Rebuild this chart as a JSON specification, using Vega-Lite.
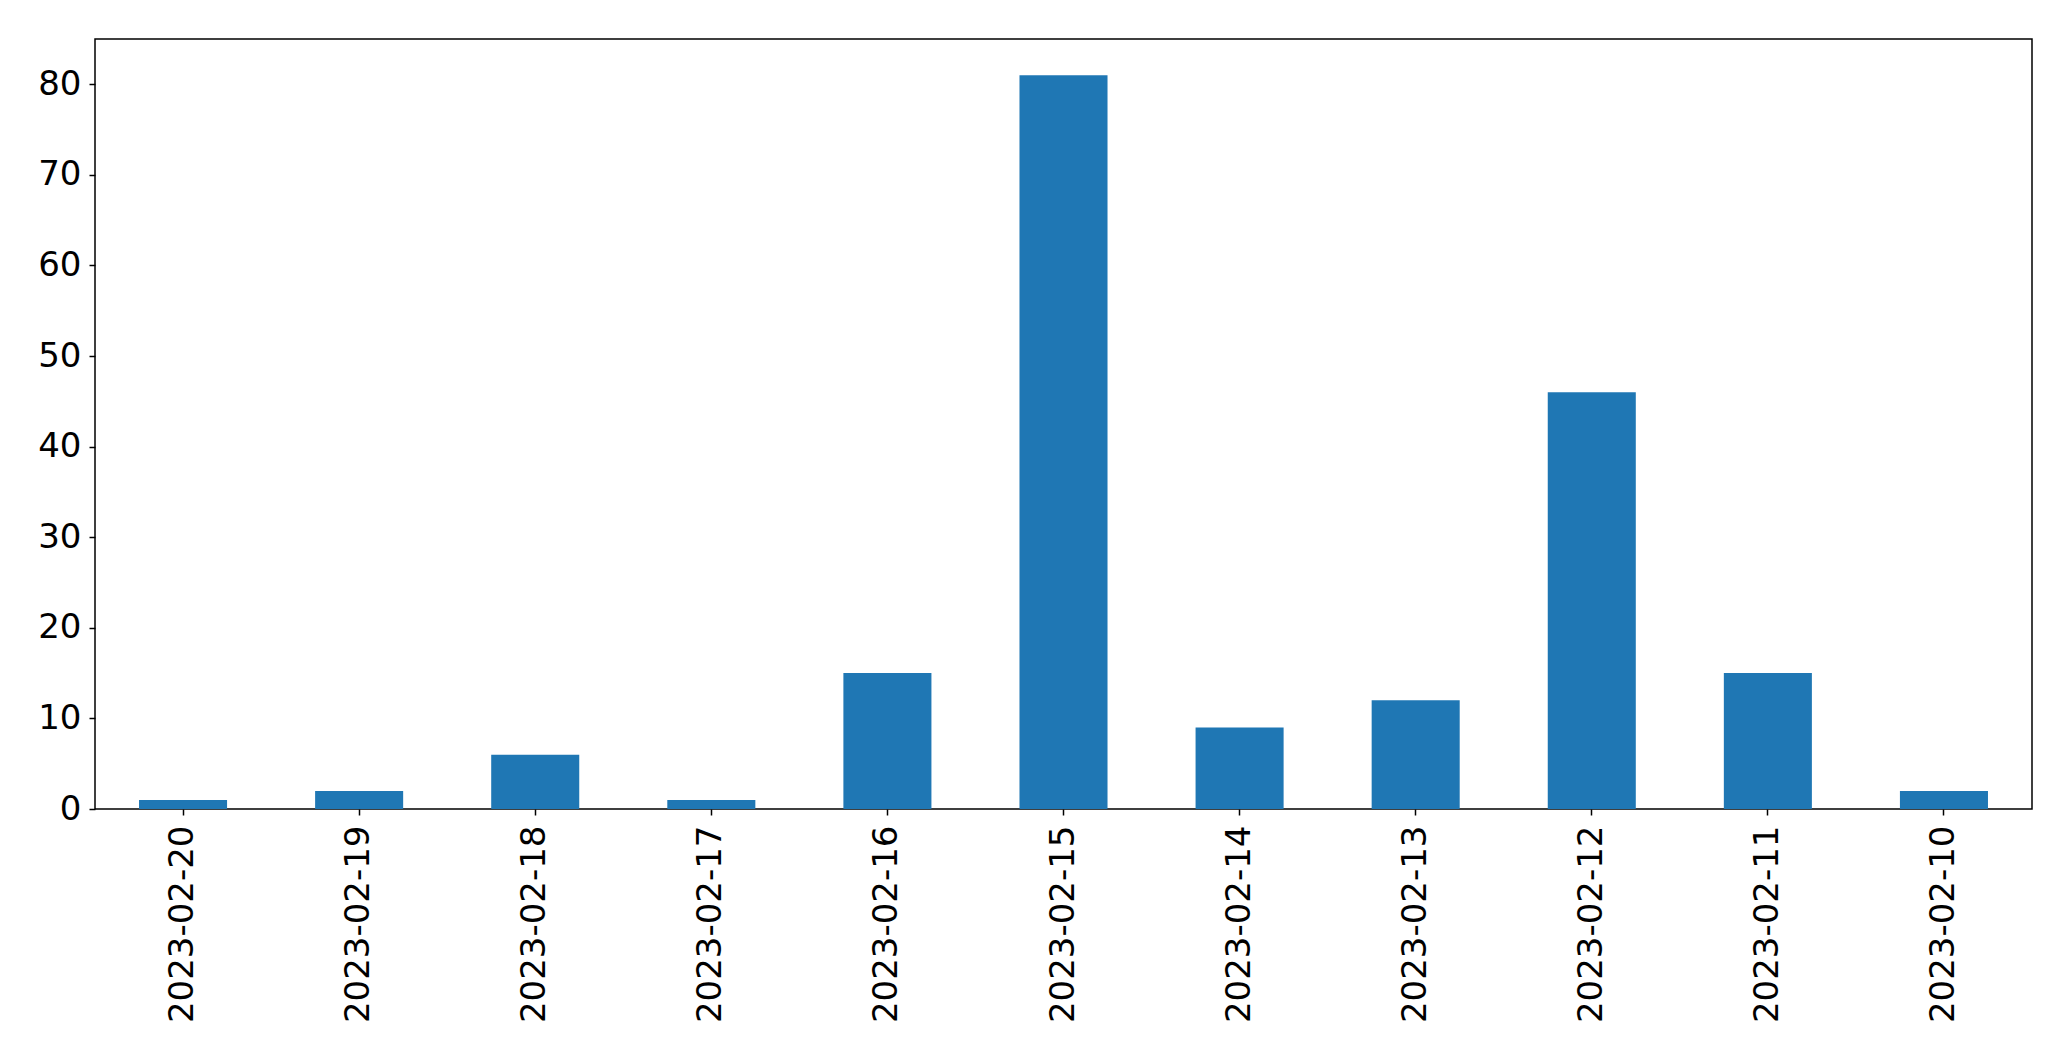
{
  "$schema": "https://vega.github.io/schema/vega-lite/v6.json",
  "autosize": "none",
  "width": 1937,
  "height": 770,
  "padding": {"left": 95, "top": 39, "right": 39, "bottom": 252},
  "background": "white",
  "config": {
    "view": {"stroke": "black", "strokeWidth": 1.5},
    "font": "DejaVu Sans"
  },
  "data": {
    "values": [
      {"date": "2023-02-20", "count": 1},
      {"date": "2023-02-19", "count": 2},
      {"date": "2023-02-18", "count": 6},
      {"date": "2023-02-17", "count": 1},
      {"date": "2023-02-16", "count": 15},
      {"date": "2023-02-15", "count": 81},
      {"date": "2023-02-14", "count": 9},
      {"date": "2023-02-13", "count": 12},
      {"date": "2023-02-12", "count": 46},
      {"date": "2023-02-11", "count": 15},
      {"date": "2023-02-10", "count": 2}
    ]
  },
  "mark": {"type": "bar", "color": "#1f77b4"},
  "encoding": {
    "x": {
      "field": "date",
      "type": "nominal",
      "sort": null,
      "title": null,
      "scale": {"paddingInner": 0.5, "paddingOuter": 0.25},
      "axis": {
        "domain": false,
        "labelAngle": -90,
        "labelAlign": "right",
        "labelBaseline": "middle",
        "labelFont": "DejaVu Sans",
        "labelFontSize": 34,
        "labelColor": "black",
        "labelPadding": 10,
        "labelLimit": 0,
        "labelOverlap": false,
        "tickColor": "black",
        "tickWidth": 1.5,
        "tickSize": 6,
        "grid": false
      }
    },
    "y": {
      "field": "count",
      "type": "quantitative",
      "title": null,
      "scale": {"domain": [0, 85], "nice": false},
      "axis": {
        "domain": false,
        "values": [0, 10, 20, 30, 40, 50, 60, 70, 80],
        "labelFont": "DejaVu Sans",
        "labelFontSize": 34,
        "labelColor": "black",
        "labelPadding": 8,
        "tickColor": "black",
        "tickWidth": 1.5,
        "tickSize": 6,
        "grid": false
      }
    }
  }
}
